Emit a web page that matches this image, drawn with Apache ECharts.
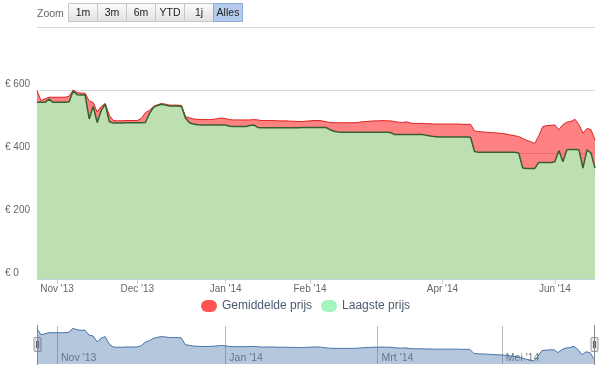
<!DOCTYPE html>
<html><head><meta charset="utf-8">
<script src="https://cdn.jsdelivr.net/npm/echarts@6/dist/echarts.min.js"></script>
<style>html,body{margin:0;padding:0;background:#fff}#c{width:600px;height:371px}</style>
</head><body><div id="c"></div>
<script>
const dates = [
'2013-10-25','2013-10-26','2013-10-28','2013-10-30','2013-10-31',
'2013-11-01','2013-11-02','2013-11-03','2013-11-05','2013-11-06','2013-11-08','2013-11-09','2013-11-11','2013-11-12','2013-11-14','2013-11-15','2013-11-17','2013-11-18','2013-11-20','2013-11-21','2013-11-23','2013-11-24','2013-11-26','2013-11-27','2013-11-29',
'2013-12-01','2013-12-02','2013-12-03','2013-12-04','2013-12-06','2013-12-07','2013-12-08','2013-12-10','2013-12-11','2013-12-12','2013-12-14','2013-12-15','2013-12-17','2013-12-18','2013-12-19','2013-12-21','2013-12-22','2013-12-24','2013-12-26','2013-12-27','2013-12-29','2013-12-30',
'2014-01-01','2014-01-02','2014-01-03','2014-01-05','2014-01-06','2014-01-07','2014-01-09','2014-01-10','2014-01-12','2014-01-13','2014-01-14','2014-01-16','2014-01-17','2014-01-19','2014-01-20','2014-01-22','2014-01-23','2014-01-25','2014-01-27','2014-01-28','2014-01-30',
'2014-02-01','2014-02-02','2014-02-04','2014-02-05','2014-02-07','2014-02-08','2014-02-10','2014-02-11','2014-02-13','2014-02-14','2014-02-16','2014-02-18','2014-02-19','2014-02-21','2014-02-23','2014-02-25','2014-02-27',
'2014-03-01','2014-03-03','2014-03-04','2014-03-06','2014-03-08','2014-03-09','2014-03-11','2014-03-13','2014-03-15','2014-03-17','2014-03-19','2014-03-21','2014-03-23','2014-03-25','2014-03-27','2014-03-29',
'2014-04-01','2014-04-03','2014-04-05','2014-04-07','2014-04-09','2014-04-11','2014-04-13','2014-04-15','2014-04-17','2014-04-19','2014-04-21','2014-04-23','2014-04-25','2014-04-27','2014-04-29',
'2014-05-01','2014-05-03','2014-05-06','2014-05-08','2014-05-10','2014-05-13','2014-05-15','2014-05-18','2014-05-20','2014-05-22','2014-05-25','2014-05-27','2014-05-30',
'2014-06-01','2014-06-03','2014-06-04','2014-06-06','2014-06-07','2014-06-09','2014-06-10','2014-06-12','2014-06-13','2014-06-15','2014-06-17'
];
const gemiddeldePrijs = [
598,566,572,577,577,
577,577,577,580,600,592,590,590,565,560,530,548,557,520,503,502,502,503,503,503,
503,510,528,535,548,553,557,555,552,552,552,551,515,512,508,507,506,506,506,507,509,511,
509,506,505,505,505,505,505,506,505,503,503,503,503,502,502,502,501,501,500,500,501,
502,503,503,502,499,497,496,496,496,496,496,496,497,499,500,501,502,
502,503,502,502,500,498,497,499,495,494,494,494,493,493,492,492,
492,492,492,492,492,491,491,491,470,468,467,466,465,464,463,
462,460,457,455,452,446,440,436,430,455,484,487,488,
489,474,490,498,500,507,490,463,478,474,441
];
const laagstePrijs = [
561,561,561,571,561,
561,561,561,563,597,585,584,584,508,548,497,535,555,500,495,495,495,496,496,496,
496,496,497,525,545,551,555,552,549,549,549,548,510,496,492,490,489,489,489,489,489,489,
489,485,484,484,484,484,487,489,481,480,480,480,480,480,480,480,480,480,480,481,481,
481,481,481,481,481,474,469,467,466,466,466,466,466,466,466,466,466,
466,466,466,465,459,459,459,459,459,459,459,459,456,454,452,451,
451,451,451,451,451,451,451,450,405,402,402,402,402,402,402,
402,402,402,402,400,352,351,351,351,370,370,370,370,
372,408,372,410,411,411,410,352,410,400,352
];
const monthNames = ['Jan','Feb','Mrt','Apr','Mei','Jun','Jul','Aug','Sep','Okt','Nov','Dec'];
const mainTickMonths = ['2013-11','2013-12','2014-01','2014-02','2014-04','2014-06'];
const navTickMonths = ['2013-11','2014-01','2014-03','2014-05'];
const rangeButtons = ['1m','3m','6m','YTD','1j','Alles'];
const selectedButton = 'Alles';

const FONT = '"Liberation Sans", Arial, sans-serif';
function monthKey(i){ return dates[i].slice(0,7); }
function isTick(i, list){
  const m = monthKey(i);
  return list.indexOf(m) >= 0 && (i === 0 || monthKey(i-1) !== m);
}
function fmt(v){ return monthNames[parseInt(v.slice(5,7),10)-1] + " '" + v.slice(2,4); }

const chart = echarts.init(document.getElementById('c'), null, {renderer:'canvas'});

const btnGraphics = rangeButtons.map(function(b, k){
  const sel = b === selectedButton;
  return {
    type:'group', left: 68 + 29*k, top: 3,
    children:[
      {type:'rect', shape:{x:0.5,y:0.5,width:29,height:18},
       style:{fill: sel ? '#b4cbee' : new echarts.graphic.LinearGradient(0,0,0,1,[{offset:0,color:'#fbfbfb'},{offset:1,color:'#e1e1e1'}]),
              stroke: sel ? '#91abd6' : '#c6c6c6', lineWidth:1}},
      {type:'text', style:{text:b, x:15, y:10, align:'center', verticalAlign:'middle',
              fontSize:10.5, fontFamily:FONT, fill:'#222'}}
    ]
  };
});

const handle = function(cx){
  return {type:'group', left: cx-3.5, top: 337, children:[
    {type:'rect', shape:{x:0.5,y:0.5,width:7,height:14,r:1}, style:{fill:'#ebe7e8', stroke:'#999', lineWidth:1}},
    {type:'line', shape:{x1:3,y1:4,x2:3,y2:11}, style:{stroke:'#666', lineWidth:1}},
    {type:'line', shape:{x1:5,y1:4,x2:5,y2:11}, style:{stroke:'#666', lineWidth:1}}
  ]};
};

chart.setOption({
  animation:false,
  graphic:[
    {type:'text', left:37, top:9, style:{text:'Zoom', fontSize:10.5, fontFamily:FONT, fill:'#666'}}
  ].concat(btnGraphics).concat([
    {type:'line', shape:{x1:37.5,y1:325,x2:37.5,y2:365}, style:{stroke:'#888', lineWidth:1}, z:10},
    {type:'line', shape:{x1:594.5,y1:325,x2:594.5,y2:365}, style:{stroke:'#888', lineWidth:1}, z:10},
    Object.assign(handle(37), {z:11}),
    Object.assign(handle(594), {z:11})
  ]),
  legend:{
    left:201, top:300, padding:0, itemWidth:16, itemHeight:12, itemGap:9,
    icon:'path://M6,0 h4 a6,6 0 0 1 0,12 h-4 a6,6 0 0 1 0,-12 z',
    textStyle:{color:'#4a5a6e', fontSize:12, fontFamily:FONT},
    data:[{name:'Gemiddelde prijs', itemStyle:{color:'#ff5252'}},
          {name:'Laagste prijs', itemStyle:{color:'#a2f5bc'}}]
  },
  grid:[
    {left:37, right:5, top:27, bottom:92},
    {left:37, right:6, top:326, height:38}
  ],
  xAxis:[
    {type:'category', gridIndex:0, data:dates, boundaryGap:false,
     axisLine:{lineStyle:{color:'#C0D0E0'}},
     axisTick:{show:true, length:5, interval:function(i){return isTick(i, mainTickMonths);}, lineStyle:{color:'#C0D0E0'}},
     axisLabel:{interval:function(i){return isTick(i, mainTickMonths);}, formatter:fmt,
                color:'#666', fontSize:10, fontFamily:FONT, margin:5},
     splitLine:{show:false}},
    {type:'category', gridIndex:1, data:dates, boundaryGap:false,
     axisLine:{show:false}, axisTick:{show:false},
     axisLabel:{inside:true, interval:function(i){return isTick(i, navTickMonths);}, formatter:fmt,
                color:'#777', fontSize:10.5, fontFamily:FONT, align:'left', padding:[0,0,0,4], margin:0},
     splitLine:{show:true, interval:function(i){return isTick(i, navTickMonths);}, lineStyle:{color:'#b8b8b8', width:1}}}
  ],
  yAxis:[
    {type:'value', gridIndex:0, min:0, max:800, interval:200,
     axisLine:{show:false}, axisTick:{show:false},
     axisLabel:{formatter:function(v){return v === 800 ? '' : '€ ' + v;}, align:'left', margin:32,
                verticalAlign:'bottom', padding:[0,0,1,0], color:'#666', fontSize:10, fontFamily:FONT},
     splitLine:{lineStyle:{color:'#d8d8d8', width:1}}},
    {type:'value', gridIndex:1, min:415, max:612, show:false, splitLine:{show:false}}
  ],
  series:[
    {name:'Gemiddelde prijs', type:'line', xAxisIndex:0, yAxisIndex:0, data:gemiddeldePrijs,
     symbol:'none', showSymbol:false, z:2,
     itemStyle:{color:'#ff5252'},
     lineStyle:{color:'#dd1f1f', width:1},
     areaStyle:{color:'#ff0000', opacity:0.49, origin:'start'}},
    {name:'Laagste prijs', type:'line', xAxisIndex:0, yAxisIndex:0, data:laagstePrijs,
     symbol:'none', showSymbol:false, z:3,
     itemStyle:{color:'#a2f5bc'},
     lineStyle:{color:'#35612f', width:1.5},
     areaStyle:{color:'#bddfb2', opacity:1, origin:'start'}},
    {name:'navigator', type:'line', xAxisIndex:1, yAxisIndex:1, data:gemiddeldePrijs,
     symbol:'none', showSymbol:false, silent:true,
     lineStyle:{color:'#4572A7', width:1},
     areaStyle:{color:'rgba(69,114,167,0.4)', opacity:1, origin:'start'}}
  ]
});
</script></body></html>
